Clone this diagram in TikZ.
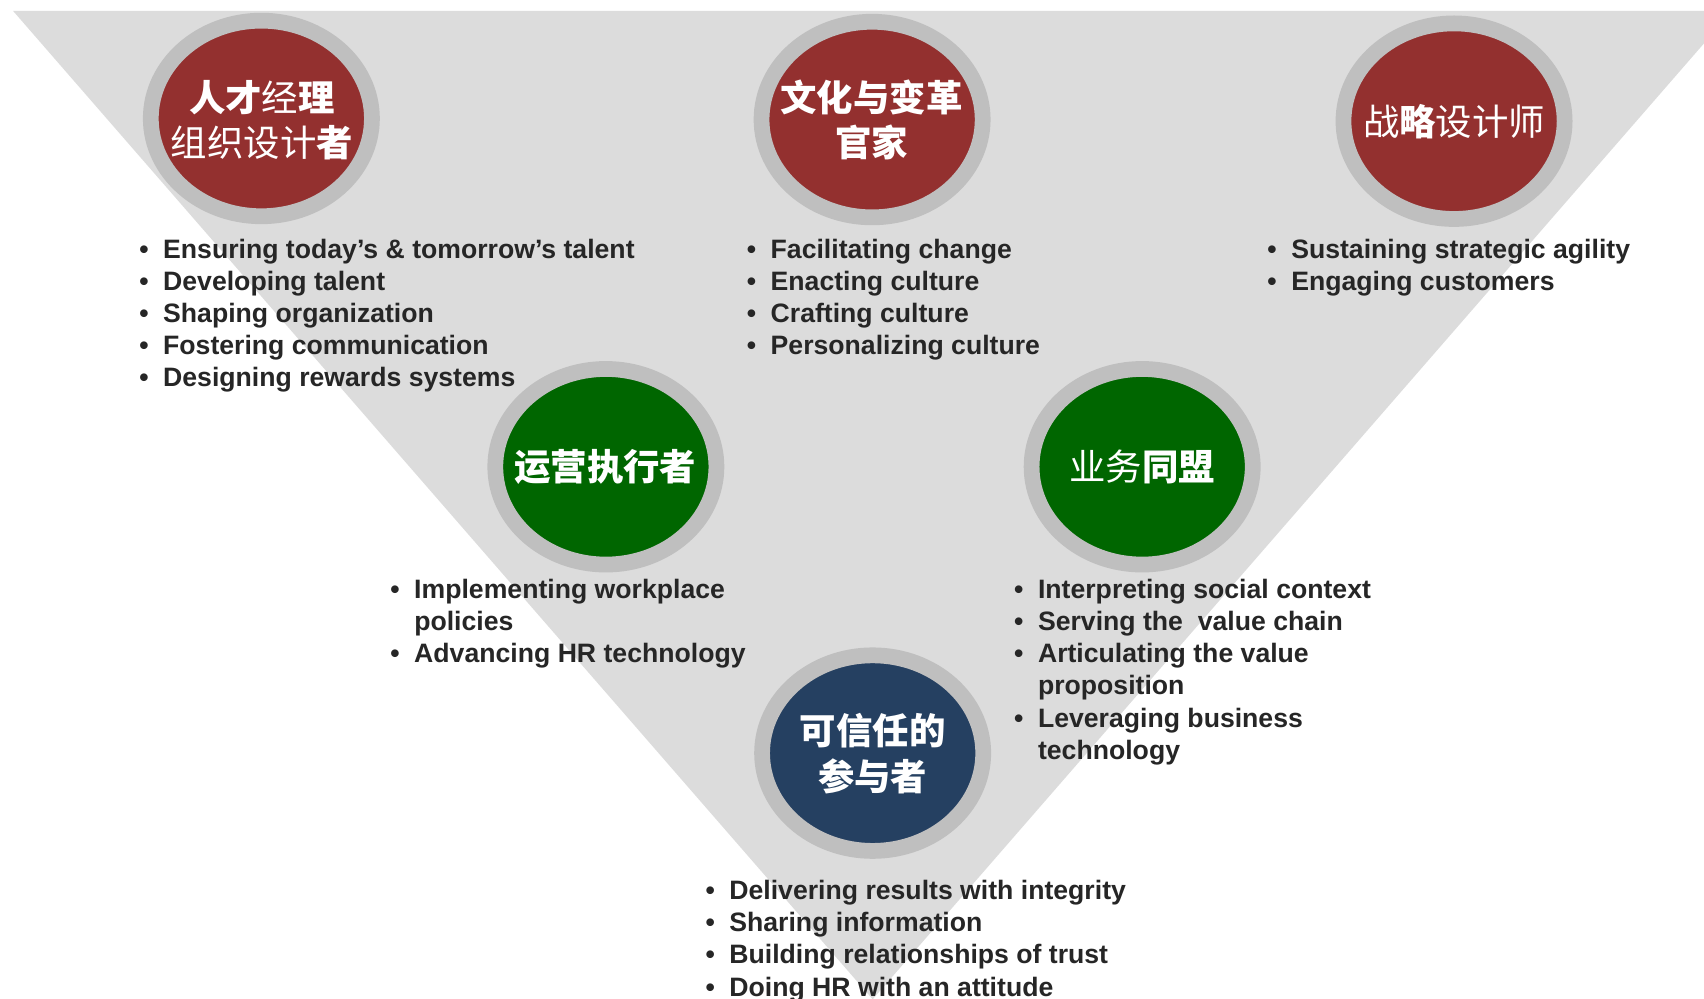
\documentclass[tikz,border=0pt]{standalone}
\usepackage{fontspec}
\setmainfont{Liberation Sans}
\newfontfamily\cjk{Noto Sans CJK SC}
\usetikzlibrary{shapes.geometric}
\definecolor{tri}{RGB}{220,220,220}
\definecolor{ring}{RGB}{191,191,191}
\definecolor{hrred}{RGB}{147,48,47}
\definecolor{hrgreen}{RGB}{0,102,0}
\definecolor{hrblue}{RGB}{37,64,97}
\definecolor{txt}{RGB}{38,38,38}
\newcommand\bl{\makebox[22pt][l]{•}}
\newcommand\bn{\hspace*{22pt}}
\begin{document}
\begin{tikzpicture}[x=1pt,y=-1pt,
  role/.style={ellipse, inner sep=0pt, minimum width=203.5pt, minimum height=180pt, draw=ring, line width=14.5pt},
  rolename/.style={text=white, align=center, inner sep=0pt, font=\cjk\fontsize{33.5}{42}\selectfont},
  points/.style={anchor=base west, inner sep=0pt, text=txt, font=\bfseries\fontsize{24.5}{29.5}\selectfont}]
\clip (0,0) rectangle (1568,919.26);
\fill[white] (0,0) rectangle (1568,919.26);
\fill[tri] (12,10) -- (1594,10) -- (803,919.5) -- cycle;

\node[role, fill=hrred] (c1) at (240.5,109) {};
\node[role, fill=hrred] (c2) at (802.5,110) {};
\node[role, fill=hrred] (c3) at (1338,111.5) {};
\node[role, fill=hrgreen] (c4) at (557.5,429.5) {};
\node[role, fill=hrgreen] (c5) at (1051,429.5) {};
\node[role, fill=hrblue] (c6) at (803,693) {};

\node[rolename] (t1) at (241,110.5) {{\bfseries 人才}经{\bfseries 理}\\组织设计{\bfseries 者}};
\node[rolename] (t2) at (802,110.5) {{\bfseries 文化与变革}\\{\bfseries 官家}};
\node[rolename] (t3) at (1338,111.5) {战{\bfseries 略}设计师};
\node[rolename] (t4) at (557,430) {{\bfseries 运营执行者}};
\node[rolename] (t5) at (1051,430) {业务{\bfseries 同盟}};
\node[rolename] (t6) at (803,693.5) {{\bfseries 可信任的}\\{\bfseries 参与者}};

\node[points] (l1) at (128,238) {\begin{tabular}[t]{@{}l@{}}
\bl Ensuring today’s \& tomorrow’s talent\\
\bl Developing talent\\
\bl Shaping organization\\
\bl Fostering communication\\
\bl Designing rewards systems
\end{tabular}};
\node[points] (l2) at (687,238) {\begin{tabular}[t]{@{}l@{}}
\bl Facilitating change\\
\bl Enacting culture\\
\bl Crafting culture\\
\bl Personalizing culture
\end{tabular}};
\node[points] (l3) at (1166,238) {\begin{tabular}[t]{@{}l@{}}
\bl Sustaining strategic agility\\
\bl Engaging customers
\end{tabular}};
\node[points] (l4) at (359,551) {\begin{tabular}[t]{@{}l@{}}
\bl Implementing workplace\\
\bn policies\\
\bl Advancing HR technology
\end{tabular}};
\node[points] (l5) at (933,551) {\begin{tabular}[t]{@{}l@{}}
\bl Interpreting social context\\
\bl Serving the\ \ value chain\\
\bl Articulating the value\\
\bn proposition\\
\bl Leveraging business\\
\bn technology
\end{tabular}};
\node[points] (l6) at (649,828) {\begin{tabular}[t]{@{}l@{}}
\bl Delivering results with integrity\\
\bl Sharing information\\
\bl Building relationships of trust\\
\bl Doing HR with an attitude
\end{tabular}};
\end{tikzpicture}
\end{document}
